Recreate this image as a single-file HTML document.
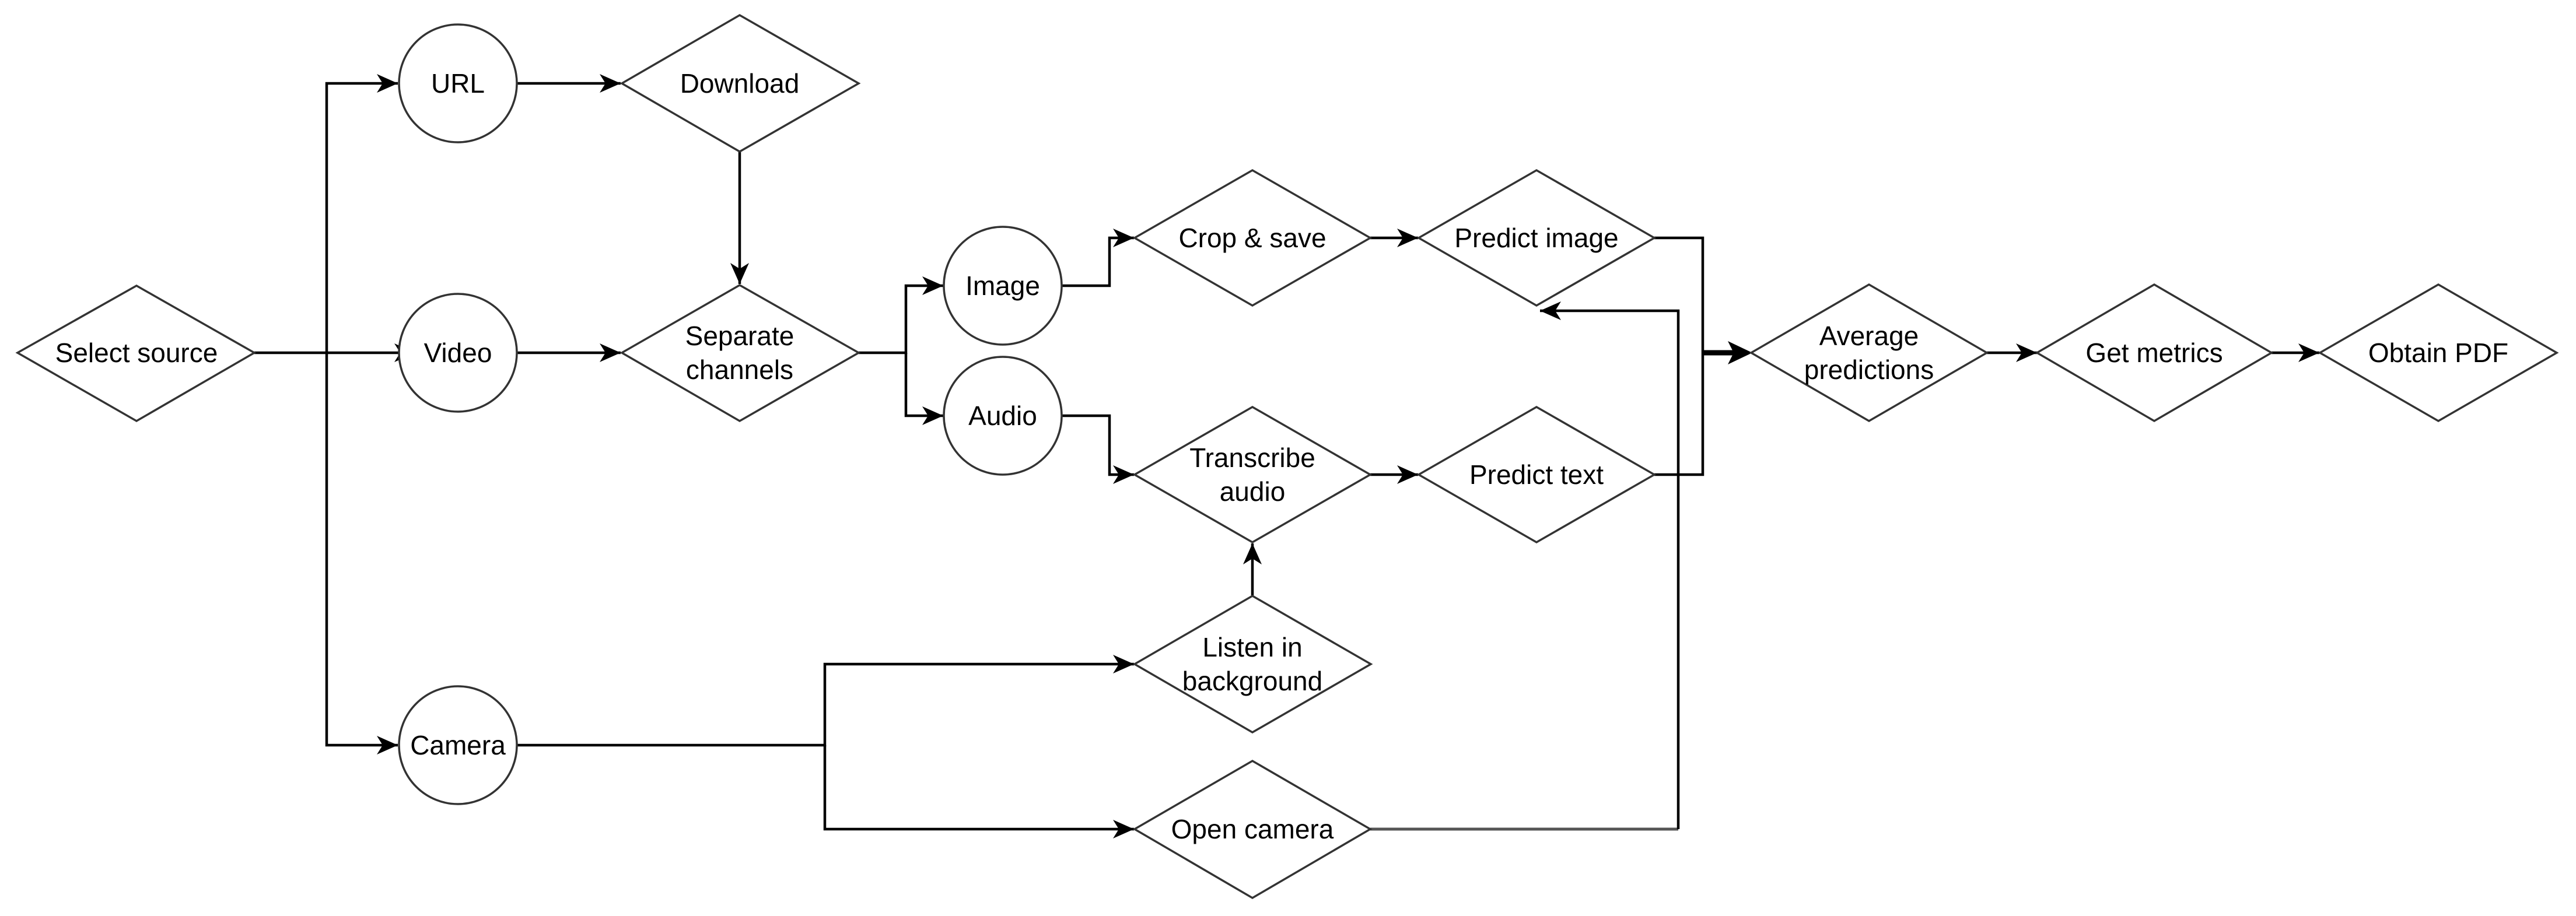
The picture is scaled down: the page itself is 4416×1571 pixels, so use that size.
<!DOCTYPE html>
<html><head><meta charset="utf-8"><style>
html,body{margin:0;padding:0;background:#fff;}
svg{display:block;}
text{font-family:"Liberation Sans",Arial,sans-serif;font-size:46px;fill:#000;text-anchor:middle;dominant-baseline:central;}
.s{fill:#fff;stroke:#333;stroke-width:3.5;}
.c{fill:none;stroke:#000;stroke-width:4.5;}
</style></head><body>
<svg width="4416" height="1571" viewBox="0 0 4416 1571" xmlns="http://www.w3.org/2000/svg">
<defs>
<marker id="a" markerUnits="userSpaceOnUse" markerWidth="44" markerHeight="44" viewBox="0 0 44 44" refX="38" refY="22" orient="auto">
<path d="M2,6 L38,22 L2,38 L12,22 Z" fill="#000"/>
</marker>
</defs>
<path class="c" d="M436,605 H712" marker-end="url(#a)"/>
<path class="c" d="M560,605 V143 H682" marker-end="url(#a)"/>
<path class="c" d="M560,605 V1278 H682" marker-end="url(#a)"/>
<path class="c" d="M886,143 H1064" marker-end="url(#a)"/>
<path class="c" d="M886,605 H1064" marker-end="url(#a)"/>
<path class="c" d="M1268,260 V487" marker-end="url(#a)"/>
<path class="c" d="M1472,605 H1553 V490 H1617" marker-end="url(#a)"/>
<path class="c" d="M1553,605 V713 H1617" marker-end="url(#a)"/>
<path class="c" d="M1820,490 H1902 V408 H1944" marker-end="url(#a)"/>
<path class="c" d="M1820,713 H1902 V814 H1944" marker-end="url(#a)"/>
<path class="c" d="M2349,408 H2431" marker-end="url(#a)"/>
<path class="c" d="M2349,814 H2431" marker-end="url(#a)"/>
<path class="c" d="M2147,1021 V932" marker-end="url(#a)"/>
<path class="c" d="M886,1278 H1414 V1139 H1944" marker-end="url(#a)"/>
<path class="c" d="M1414,1278 V1422 H1944" marker-end="url(#a)"/>
<path fill="none" stroke="#555" stroke-width="5" d="M2349,1422 H2877"/>
<path class="c" d="M2877,1422 V533 H2640" marker-end="url(#a)"/>
<path class="c" d="M2836,408 H2919 V814 H2836"/>
<path fill="none" stroke="#000" stroke-width="9" d="M2919,605 H2990"/>
<path d="M2962,585 L3004,605 L2962,625 L2972,605 Z" fill="#000"/>
<path class="c" d="M3406,605 H3492" marker-end="url(#a)"/>
<path class="c" d="M3894,605 H3976" marker-end="url(#a)"/>
<polygon class="s" points="30,605 234,490 436,605 234,722"/>
<circle class="s" cx="785" cy="143" r="101"/>
<circle class="s" cx="785" cy="605" r="101"/>
<circle class="s" cx="785" cy="1278" r="101"/>
<polygon class="s" points="1066,143 1268,26 1472,143 1268,260"/>
<polygon class="s" points="1066,605 1268,489 1472,605 1268,722"/>
<circle class="s" cx="1719" cy="490" r="101"/>
<circle class="s" cx="1719" cy="713" r="101"/>
<polygon class="s" points="1945,408 2147,292 2349,408 2147,524"/>
<polygon class="s" points="2432,408 2634,292 2836,408 2634,524"/>
<polygon class="s" points="1945,814 2147,698 2349,814 2147,930"/>
<polygon class="s" points="2432,814 2634,698 2836,814 2634,930"/>
<polygon class="s" points="1945,1139 2147,1022 2350,1139 2147,1256"/>
<polygon class="s" points="1945,1422 2147,1305 2349,1422 2147,1540"/>
<polygon class="s" points="3002,605 3204,488 3406,605 3204,722"/>
<polygon class="s" points="3492,605 3693,488 3894,605 3693,722"/>
<polygon class="s" points="3977,605 4180,488 4383,605 4180,722"/>
<text x="234" y="605">Select source</text>
<text x="785" y="143">URL</text>
<text x="785" y="605">Video</text>
<text x="785" y="1278">Camera</text>
<text x="1268" y="143">Download</text>
<text x="1268" y="576">Separate</text>
<text x="1268" y="634">channels</text>
<text x="1719" y="490">Image</text>
<text x="1719" y="713">Audio</text>
<text x="2147" y="408">Crop &amp; save</text>
<text x="2634" y="408">Predict image</text>
<text x="2147" y="785">Transcribe</text>
<text x="2147" y="843">audio</text>
<text x="2634" y="814">Predict text</text>
<text x="2147" y="1110">Listen in</text>
<text x="2147" y="1168">background</text>
<text x="2147" y="1422">Open camera</text>
<text x="3204" y="576">Average</text>
<text x="3204" y="634">predictions</text>
<text x="3693" y="605">Get metrics</text>
<text x="4180" y="605">Obtain PDF</text>
</svg>
</body></html>
